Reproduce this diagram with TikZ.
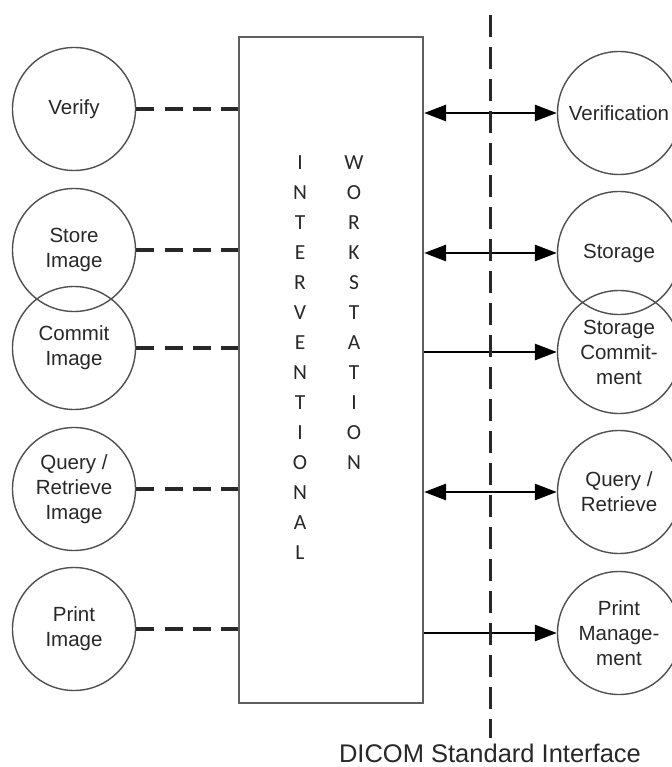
\documentclass[tikz,border=0pt]{standalone}
\usepackage{fontspec}
\setmainfont{Liberation Sans}
\newfontfamily\letterfont{Carlito}
\usetikzlibrary{arrows.meta}
\definecolor{ringgray}{RGB}{80,80,80}
\definecolor{boxgray}{RGB}{95,95,95}
\definecolor{inkgray}{RGB}{40,40,40}
\tikzset{
  svc/.style={circle, draw=ringgray, line width=1.4pt, minimum size=123pt, inner sep=0pt,
    align=center, text=inkgray, font=\fontsize{20.5}{25}\selectfont},
  dashlink/.style={draw=inkgray, line width=3.2pt, dash pattern=on 18pt off 10.3pt},
  arrowlink/.style={draw=black, line width=2.8pt, -{Triangle[length=22pt,width=16pt]}},
  dblarrowlink/.style={draw=black, line width=2.8pt, {Triangle[length=22pt,width=16pt]}-{Triangle[length=22pt,width=16pt]}},
  letter/.style={font=\letterfont\fontsize{21.5}{22}\selectfont, text=inkgray, inner sep=0pt},
}
\begin{document}
\begin{tikzpicture}[x=1pt, y=-1pt]
\useasboundingbox (0,0) rectangle (671,767);
\fill[white] (0,0) rectangle (671,767);
% central box
\node[draw=boxgray, line width=2.2pt, minimum width=184pt, minimum height=666pt, inner sep=0pt] (box) at (331,370) {};
% letters
\foreach \c [count=\i] in {I,N,T,E,R,V,E,N,T,I,O,N,A,L}
  \node[letter] (ia\i) at (300,{163+30*(\i-1)}) {\c};
\foreach \c [count=\i] in {W,O,R,K,S,T,A,T,I,O,N}
  \node[letter] (wb\i) at (354,{163+30*(\i-1)}) {\c};
% left circles
\node[svc] (l1) at (74,109) {Verify};
\node[svc] (l2) at (74,250) {Store\\Image};
\node[svc] (l3) at (74,348) {Commit\\Image};
\node[svc] (l4) at (74,489) {Query /\\Retrieve\\Image};
\node[svc] (l5) at (74,629) {Print\\Image};
% right circles
\node[svc] (r1) at (619,113) {Verification};
\node[svc] (r2) at (619,253) {Storage};
\node[svc] (r3) at (619,352) {Storage\\Commit-\\ment};
\node[svc] (r4) at (619,492) {Query /\\Retrieve};
\node[svc] (r5) at (619,633) {Print\\Manage-\\ment};
% dashed links left
\foreach \k in {1,...,5}
  \draw[dashlink] (l\k.east) -- (l\k.east -| box.west);
% arrows right
\draw[dblarrowlink] (r1.west -| box.east) -- (r1.west);
\draw[dblarrowlink] (r2.west -| box.east) -- (r2.west);
\draw[arrowlink] (r3.west -| box.east) -- (r3.west);
\draw[dblarrowlink] (r4.west -| box.east) -- (r4.west);
\draw[arrowlink] (r5.west -| box.east) -- (r5.west);
% interface line
\coordinate (itop) at (490,15);
\coordinate (ibot) at (490,738);
\draw[draw=inkgray, line width=3pt, dash pattern=on 22pt off 10pt] (itop) -- (ibot);
\node[font=\fontsize{25.5}{28}\selectfont, text=inkgray, inner sep=0pt] (dicom) at (490,753) {DICOM Standard Interface};
\end{tikzpicture}
\end{document}
